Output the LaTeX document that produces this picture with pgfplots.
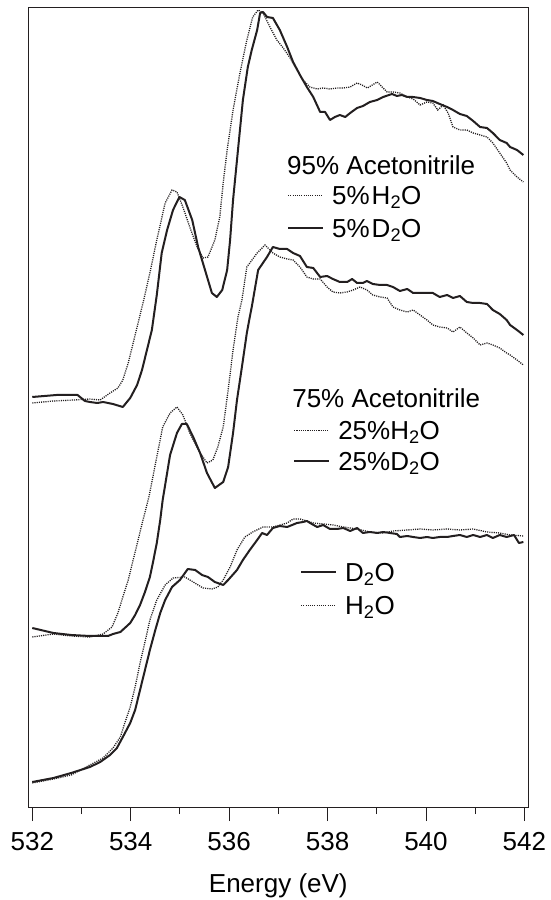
\documentclass[border=0pt]{standalone}
\usepackage{fontspec}
\setmainfont{Liberation Sans}
\usepackage{pgfplots}
\pgfplotsset{compat=1.18}

\definecolor{ink}{HTML}{231F20}
\newcommand{\F}{\fontsize{26}{31}\selectfont}

\pgfplotsset{
  frame/.style={
    at={(0pt,0pt)}, anchor=south west,
    scale only axis, width=500pt, height=800pt,
    xmin=531.919, xmax=542.08, ymin=0, ymax=800,
  },
  h2o/.style={ink, line width=1.3pt, dash pattern=on 1.1pt off 1.1pt, mark=none},
  d2o/.style={ink, line width=2pt, mark=none, line join=round},
  leg/.style={
    legend style={draw=none, fill=none, inner sep=0pt, anchor=north west,
      font=\F, nodes={inner sep=0pt, text height=24.6pt, text depth=6pt},
      column sep=8pt, row sep=#1},
    legend cell align=left,
    legend image code/.code={\draw[##1] (0pt,0pt) -- (35pt,0pt);},
  },
}

\begin{document}
\begin{tikzpicture}
\useasboundingbox (-28.3pt,-93pt) rectangle (522.7pt,807pt);

% 95% acetonitrile, with the frame and the energy axis
\begin{axis}[frame,
  axis line style={ink, line width=0.9pt},
  tick style={ink, line width=0.9pt},
  xtick={532,534,...,542}, minor xtick={533,535,...,541},
  ytick=\empty, xtick pos=bottom, xtick align=outside,
  major tick length=14pt, minor tick length=7pt,
  /pgf/number format/assume math mode=true,
  xticklabel style={font=\F, anchor=base, yshift=-29pt},
  xlabel={Energy (eV)},
  xlabel style={font=\F, at={(axis description cs:0.5,0)}, anchor=center, yshift=-79pt},
  leg=2.4pt, legend style={at={(axis cs:537.176,627.3)}},
]
\addplot[h2o] coordinates {
(532.00,404) (532.43,406) (532.85,407) (533.17,408) (533.38,407) (533.58,414)
(533.74,419) (533.84,427) (533.95,444) (534.05,464) (534.15,484) (534.25,504)
(534.39,534) (534.53,567) (534.70,604) (534.84,617) (534.94,615) (535.06,600)
(535.20,580) (535.35,560) (535.47,549) (535.57,550) (535.71,567) (535.81,590)
(535.88,624) (535.96,657) (536.08,697) (536.22,734) (536.36,767) (536.48,790)
(536.59,797) (536.69,794) (536.83,780) (536.97,767) (537.10,759) (537.24,749)
(537.38,737) (537.50,727) (537.64,720) (537.79,718) (537.91,719) (538.05,718)
(538.19,719) (538.32,719) (538.46,720) (538.60,724) (538.70,722) (538.81,719)
(538.91,722) (539.01,725) (539.11,720) (539.21,715) (539.33,715) (539.47,714)
(539.62,710) (539.74,708) (539.88,702) (540.02,705) (540.14,704) (540.24,697)
(540.35,702) (540.45,694) (540.55,680) (540.69,677) (540.83,677) (540.96,674)
(541.10,672) (541.24,670) (541.36,664) (541.50,654) (541.64,644) (541.71,637)
(541.85,630) (541.98,625)
};
\addlegendentry{5\%\kern2pt H\textsubscript{2}O}
\addplot[d2o] coordinates {
(532.00,410) (532.49,412) (532.92,412) (533.07,406) (533.17,405) (533.32,404)
(533.44,405) (533.64,403) (533.84,400) (533.99,409) (534.13,422) (534.23,437)
(534.33,457) (534.43,477) (534.53,512) (534.63,554) (534.74,577) (534.86,597)
(534.99,610) (535.10,607) (535.25,587) (535.37,560) (535.51,537) (535.65,514)
(535.75,510) (535.86,517) (535.96,537) (536.02,567) (536.08,607) (536.18,657)
(536.28,707) (536.38,740) (536.46,757) (536.57,777) (536.63,794) (536.69,795)
(536.77,790) (536.89,789) (537.03,777) (537.18,760) (537.30,745) (537.44,732)
(537.58,720) (537.71,710) (537.85,695) (537.95,695) (538.05,687) (538.15,690)
(538.25,692) (538.36,690) (538.46,694) (538.60,699) (538.72,701) (538.86,705)
(539.01,707) (539.13,710) (539.31,713) (539.41,711) (539.51,712) (539.62,710)
(539.74,710) (539.88,709) (540.02,707) (540.14,706) (540.28,703) (540.43,700)
(540.55,697) (540.69,693) (540.83,691) (540.96,686) (541.10,680) (541.24,679)
(541.36,674) (541.50,667) (541.64,664) (541.71,660) (541.85,657) (541.98,652)
};
\addlegendentry{5\%\kern2pt D\textsubscript{2}O}
\node[anchor=base west, inner sep=0pt, font=\F] at (axis cs:537.176,632) {95\% Acetonitrile};
\node[anchor=base west, inner sep=0pt, font=\F] at (axis cs:537.28,399) {75\% Acetonitrile};
\end{axis}

% 75% acetonitrile
\begin{axis}[frame, hide axis,
  leg=0pt, legend style={at={(axis cs:537.30,392.3)}},
]
\addplot[h2o] coordinates {
(532.00,170) (532.43,173) (532.79,171) (533.17,170) (533.44,173) (533.62,180)
(533.74,194) (533.84,210) (533.95,227) (534.05,247) (534.15,267) (534.25,287)
(534.37,310) (534.53,350) (534.65,380) (534.80,394) (534.94,400) (535.06,392)
(535.20,374) (535.35,359) (535.55,344) (535.67,347) (535.77,360) (535.88,380)
(535.98,417) (536.08,457) (536.18,490) (536.26,507) (536.36,540) (536.57,554)
(536.73,562) (536.89,554) (537.03,550) (537.18,548) (537.30,547) (537.44,540)
(537.58,530) (537.71,528) (537.85,528) (537.99,520) (538.11,515) (538.25,514)
(538.40,515) (538.52,517) (538.66,520) (538.80,517) (538.92,512) (539.07,510)
(539.21,509) (539.33,500) (539.47,497) (539.62,495) (539.74,497) (539.88,492)
(540.02,487) (540.14,482) (540.28,480) (540.43,479) (540.55,475) (540.69,480)
(540.83,474) (540.96,469) (541.10,462) (541.24,464) (541.36,462) (541.50,459)
(541.64,454) (541.71,452) (541.85,447) (541.98,442)
};
\addlegendentry{25\%H\textsubscript{2}O}
\addplot[d2o] coordinates {
(532.00,179) (532.43,174) (532.79,172) (533.17,171) (533.38,171) (533.54,171)
(533.64,173) (533.79,175) (533.88,179) (533.99,184) (534.09,192) (534.19,202)
(534.29,215) (534.39,230) (534.45,244) (534.53,264) (534.60,287) (534.65,307)
(534.80,352) (534.94,374) (535.04,383) (535.14,383) (535.27,370) (535.41,354)
(535.55,334) (535.71,319) (535.88,325) (535.98,340) (536.08,374) (536.16,407)
(536.26,440) (536.36,474) (536.42,490) (536.46,500) (536.59,537) (536.77,550)
(536.89,560) (537.03,558) (537.18,558) (537.30,554) (537.44,551) (537.58,540)
(537.71,539) (537.85,530) (537.99,531) (538.11,528) (538.25,525) (538.40,525)
(538.50,528) (538.60,524) (538.72,524) (538.80,526) (538.92,523) (539.07,522)
(539.21,522) (539.33,520) (539.47,516) (539.62,518) (539.74,514) (539.88,514)
(540.02,514) (540.14,514) (540.28,510) (540.43,512) (540.55,509) (540.69,511)
(540.83,505) (540.96,504) (541.10,504) (541.24,503) (541.36,497) (541.50,493)
(541.64,487) (541.71,482) (541.85,477) (541.98,472)
};
\addlegendentry{25\%D\textsubscript{2}O}
\end{axis}

% neat water
\begin{axis}[frame, hide axis,
  leg=2.4pt, legend style={at={(axis cs:537.44,250.3)}},
]
\addplot[d2o] coordinates {
(532.00,25) (532.43,29) (532.79,34) (533.17,40) (533.38,45) (533.58,52)
(533.72,59) (533.84,70) (533.99,84) (534.09,97) (534.19,117) (534.29,137)
(534.39,157) (534.50,177) (534.60,194) (534.70,207) (534.84,220) (535.00,227)
(535.16,238) (535.31,237) (535.45,232) (535.57,230) (535.71,225) (535.88,222)
(535.98,227) (536.16,237) (536.28,247) (536.42,257) (536.57,267) (536.67,274)
(536.77,272) (536.89,279) (537.03,281) (537.18,280) (537.28,282) (537.38,284)
(537.50,285) (537.58,286) (537.68,283) (537.79,280) (537.91,282) (538.05,278)
(538.19,278) (538.32,279) (538.46,276) (538.60,279) (538.72,274) (538.86,275)
(539.01,274) (539.13,275) (539.27,274) (539.41,273) (539.47,270) (539.62,271)
(539.74,270) (539.88,269) (540.02,270) (540.14,269) (540.28,270) (540.43,270)
(540.55,271) (540.69,272) (540.83,270) (540.96,272) (541.10,270) (541.24,272)
(541.36,269) (541.50,272) (541.64,270) (541.79,272) (541.89,264) (541.98,265)
};
\addlegendentry{D\textsubscript{2}O}
\addplot[h2o] coordinates {
(532.00,24) (532.43,28) (532.79,32) (533.17,42) (533.44,49) (533.64,59)
(533.79,70) (533.88,84) (533.99,100) (534.09,120) (534.19,144) (534.29,165)
(534.39,187) (534.53,207) (534.70,222) (534.86,229) (535.10,230) (535.27,225)
(535.47,219) (535.65,218) (535.77,220) (535.88,227) (536.02,240) (536.16,257)
(536.32,270) (536.48,275) (536.69,280) (536.89,280) (537.18,284) (537.30,288)
(537.44,288) (537.58,286) (537.71,284) (537.91,283) (538.11,282) (538.32,280)
(538.60,278) (538.86,275) (539.13,274) (539.33,276) (539.62,277) (539.88,278)
(540.14,277) (540.43,278) (540.69,277) (540.96,278) (541.24,275) (541.50,274)
(541.71,272) (541.98,271)
};
\addlegendentry{H\textsubscript{2}O}
\end{axis}
\end{tikzpicture}
\end{document}
